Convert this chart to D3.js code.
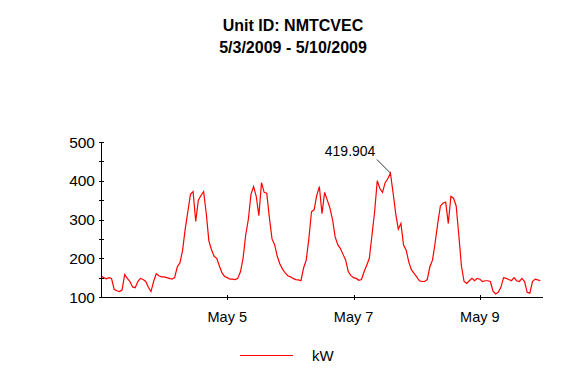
<!DOCTYPE html>
<html><head><meta charset="utf-8">
<script src="https://cdn.jsdelivr.net/npm/d3@7"></script>
<style>
html,body{margin:0;padding:0;background:#fff;}
text{font-family:"Liberation Sans",Arial,sans-serif;}
</style></head>
<body><svg id="c" width="580" height="380"></svg>
<script>
const titleLines = ["Unit ID: NMTCVEC", "5/3/2009 - 5/10/2009"];
const seriesName = "kW";
const startDate = "2009-05-03T00:00:00Z";
const endDate = "2009-05-10T00:00:00Z";
// hourly kW readings from May 3 00:00
const kw = [
 155,150,147,150,148,120,116,114,118,158,148,140,126,124,140,148,145,140,125,114,140,160,155,152,
 152,150,148,146,150,178,188,220,275,320,365,372,295,350,362,372,316,245,222,205,200,180,162,153,
 150,146,146,145,148,165,200,260,300,365,385,360,310,395,370,368,305,250,235,205,185,172,162,155,
 152,148,145,144,142,175,195,250,320,325,362,385,315,370,350,330,300,255,235,225,210,195,165,155,
 150,148,143,145,165,182,200,260,320,400,380,370,395,405,419.904,370,316,275,290,234,221,190,170,161,
 152,142,140,140,145,178,195,240,290,335,342,345,290,360,355,335,260,180,140,135,142,148,142,148,
 146,140,142,142,140,115,108,112,125,150,148,145,142,150,142,140,148,140,112,110,140,146,144,142
];
const yTicks = [100,200,300,400,500];
const yMinorTicks = [150,250,350,450];
const xTickDates = ["2009-05-05T00:00:00Z","2009-05-07T00:00:00Z","2009-05-09T00:00:00Z"];
const xTickLabels = ["May 5","May 7","May 9"];

const svg = d3.select("#c");
const x = d3.scaleUtc().domain([new Date(startDate), new Date(endDate)]).range([101, 543]);
const y = d3.scaleLinear().domain([100, 500]).range([297, 142]);
const t0 = new Date(startDate);
const data = kw.map((v,i)=>({t:d3.utcHour.offset(t0,i), v}));

// title
svg.append("g").selectAll("text").data(titleLines).join("text")
  .attr("x",293).attr("y",(d,i)=>31+i*21.5).attr("text-anchor","middle")
  .attr("font-size","16px").attr("font-weight","bold").text(d=>d);

// line
svg.append("path").datum(data)
  .attr("fill","none").attr("stroke","#ff0000").attr("stroke-width",1.2)
  .attr("d", d3.line().x(d=>x(d.t)).y(d=>y(d.v)));

// y axis
const ya = svg.append("g").attr("shape-rendering","crispEdges");
ya.append("line").attr("x1",101).attr("x2",101).attr("y1",y(500)).attr("y2",y(100)).attr("stroke","#000");
ya.selectAll("line.t").data(yTicks.concat(yMinorTicks)).join("line").attr("class","t")
  .attr("x1",99).attr("x2",103.5).attr("y1",d=>Math.round(y(d))+0.5).attr("y2",d=>Math.round(y(d))+0.5).attr("stroke","#000");
ya.selectAll("text").data(yTicks).join("text")
  .attr("x",95).attr("y",d=>y(d)).attr("dy","0.36em").attr("text-anchor","end")
  .attr("font-size","15.5px").text(d=>d);

// x axis
const xa = svg.append("g").attr("shape-rendering","crispEdges");
xa.append("line").attr("x1",x.range()[0]).attr("x2",x.range()[1]).attr("y1",297.5).attr("y2",297.5).attr("stroke","#000");
xa.selectAll("line.t").data(xTickDates).join("line").attr("class","t")
  .attr("x1",d=>Math.round(x(new Date(d)))+0.5).attr("x2",d=>Math.round(x(new Date(d)))+0.5)
  .attr("y1",295).attr("y2",300).attr("stroke","#000");
xa.selectAll("text").data(xTickDates).join("text")
  .attr("x",d=>x(new Date(d))).attr("y",321.5).attr("text-anchor","middle")
  .attr("font-size","14.5px").text((d,i)=>xTickLabels[i]);

// max annotation
const maxPt = data.reduce((a,b)=>b.v>a.v?b:a);
const px = x(maxPt.t), py = y(maxPt.v);
svg.append("line").attr("x1",px-13.5).attr("y1",py-13.5).attr("x2",px).attr("y2",py).attr("stroke","#000").attr("stroke-width",0.8);
svg.append("text").attr("x",px-15).attr("y",py-17.5).attr("text-anchor","end")
  .attr("font-size","14px").text(d3.format(".3f")(maxPt.v));

// legend
svg.append("line").attr("x1",240).attr("x2",293).attr("y1",355.5).attr("y2",355.5)
  .attr("stroke","#ff0000").attr("shape-rendering","crispEdges");
svg.append("text").attr("x",312).attr("y",361).attr("font-size","15px").text(seriesName);
</script></body></html>
